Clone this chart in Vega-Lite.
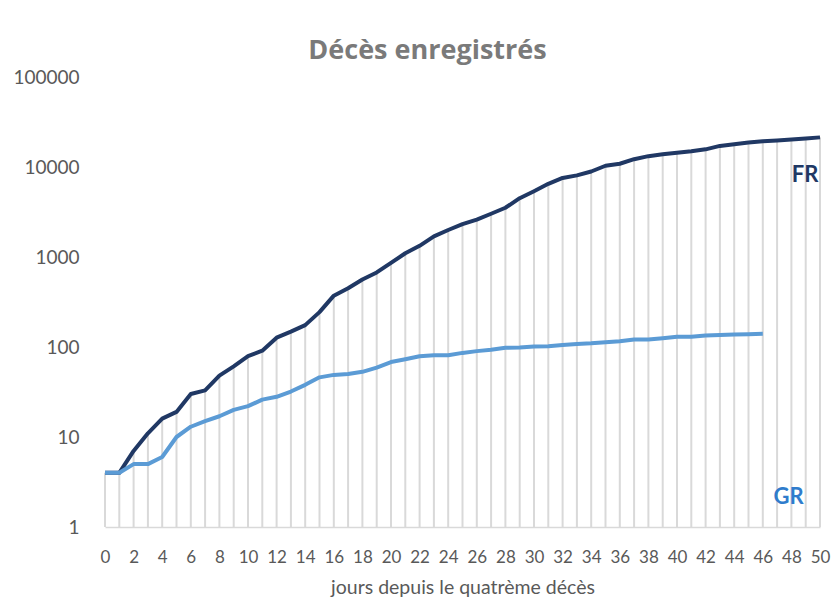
{
  "$schema": "https://vega.github.io/schema/vega-lite/v6.json",
  "width": 715,
  "height": 450,
  "autosize": {"type": "none"},
  "padding": {"left": 105, "top": 77, "right": 16, "bottom": 71},
  "background": "white",
  "config": {"view": {"stroke": null}, "font": "Lato"},
  "title": {
    "text": "Décès enregistrés",
    "fontSize": 27,
    "fontWeight": "bold",
    "color": "#7a7a7a",
    "anchor": "middle",
    "baseline": "alphabetic",
    "dx": -35,
    "dy": 24,
    "offset": 6,
    "font": "Open Sans"
  },
  "datasets": {
    "deaths": [
      {"day": 0, "country": "FR", "deaths": 4}, {"day": 1, "country": "FR", "deaths": 4},
      {"day": 2, "country": "FR", "deaths": 7}, {"day": 3, "country": "FR", "deaths": 11},
      {"day": 4, "country": "FR", "deaths": 16}, {"day": 5, "country": "FR", "deaths": 19},
      {"day": 6, "country": "FR", "deaths": 30}, {"day": 7, "country": "FR", "deaths": 33},
      {"day": 8, "country": "FR", "deaths": 48}, {"day": 9, "country": "FR", "deaths": 61},
      {"day": 10, "country": "FR", "deaths": 79}, {"day": 11, "country": "FR", "deaths": 91},
      {"day": 12, "country": "FR", "deaths": 127}, {"day": 13, "country": "FR", "deaths": 148},
      {"day": 14, "country": "FR", "deaths": 175}, {"day": 15, "country": "FR", "deaths": 244},
      {"day": 16, "country": "FR", "deaths": 372}, {"day": 17, "country": "FR", "deaths": 450},
      {"day": 18, "country": "FR", "deaths": 562}, {"day": 19, "country": "FR", "deaths": 674},
      {"day": 20, "country": "FR", "deaths": 860}, {"day": 21, "country": "FR", "deaths": 1100},
      {"day": 22, "country": "FR", "deaths": 1331}, {"day": 23, "country": "FR", "deaths": 1696},
      {"day": 24, "country": "FR", "deaths": 1995}, {"day": 25, "country": "FR", "deaths": 2314},
      {"day": 26, "country": "FR", "deaths": 2606}, {"day": 27, "country": "FR", "deaths": 3024},
      {"day": 28, "country": "FR", "deaths": 3523}, {"day": 29, "country": "FR", "deaths": 4503},
      {"day": 30, "country": "FR", "deaths": 5387}, {"day": 31, "country": "FR", "deaths": 6507},
      {"day": 32, "country": "FR", "deaths": 7560}, {"day": 33, "country": "FR", "deaths": 8078},
      {"day": 34, "country": "FR", "deaths": 8911}, {"day": 35, "country": "FR", "deaths": 10328},
      {"day": 36, "country": "FR", "deaths": 10869}, {"day": 37, "country": "FR", "deaths": 12210},
      {"day": 38, "country": "FR", "deaths": 13197}, {"day": 39, "country": "FR", "deaths": 13832},
      {"day": 40, "country": "FR", "deaths": 14393}, {"day": 41, "country": "FR", "deaths": 14967},
      {"day": 42, "country": "FR", "deaths": 15712}, {"day": 43, "country": "FR", "deaths": 17148},
      {"day": 44, "country": "FR", "deaths": 17901}, {"day": 45, "country": "FR", "deaths": 18681},
      {"day": 46, "country": "FR", "deaths": 19323}, {"day": 47, "country": "FR", "deaths": 19718},
      {"day": 48, "country": "FR", "deaths": 20240}, {"day": 49, "country": "FR", "deaths": 20765},
      {"day": 50, "country": "FR", "deaths": 21340},
      {"day": 0, "country": "GR", "deaths": 4}, {"day": 1, "country": "GR", "deaths": 4},
      {"day": 2, "country": "GR", "deaths": 5}, {"day": 3, "country": "GR", "deaths": 5},
      {"day": 4, "country": "GR", "deaths": 6}, {"day": 5, "country": "GR", "deaths": 10},
      {"day": 6, "country": "GR", "deaths": 13}, {"day": 7, "country": "GR", "deaths": 15},
      {"day": 8, "country": "GR", "deaths": 17}, {"day": 9, "country": "GR", "deaths": 20},
      {"day": 10, "country": "GR", "deaths": 22}, {"day": 11, "country": "GR", "deaths": 26},
      {"day": 12, "country": "GR", "deaths": 28}, {"day": 13, "country": "GR", "deaths": 32},
      {"day": 14, "country": "GR", "deaths": 38}, {"day": 15, "country": "GR", "deaths": 46},
      {"day": 16, "country": "GR", "deaths": 49}, {"day": 17, "country": "GR", "deaths": 50},
      {"day": 18, "country": "GR", "deaths": 53}, {"day": 19, "country": "GR", "deaths": 59},
      {"day": 20, "country": "GR", "deaths": 68}, {"day": 21, "country": "GR", "deaths": 73},
      {"day": 22, "country": "GR", "deaths": 79}, {"day": 23, "country": "GR", "deaths": 81},
      {"day": 24, "country": "GR", "deaths": 81}, {"day": 25, "country": "GR", "deaths": 86},
      {"day": 26, "country": "GR", "deaths": 90}, {"day": 27, "country": "GR", "deaths": 93},
      {"day": 28, "country": "GR", "deaths": 98}, {"day": 29, "country": "GR", "deaths": 99},
      {"day": 30, "country": "GR", "deaths": 101}, {"day": 31, "country": "GR", "deaths": 102},
      {"day": 32, "country": "GR", "deaths": 105}, {"day": 33, "country": "GR", "deaths": 108},
      {"day": 34, "country": "GR", "deaths": 110}, {"day": 35, "country": "GR", "deaths": 113},
      {"day": 36, "country": "GR", "deaths": 116}, {"day": 37, "country": "GR", "deaths": 121},
      {"day": 38, "country": "GR", "deaths": 121}, {"day": 39, "country": "GR", "deaths": 125},
      {"day": 40, "country": "GR", "deaths": 130}, {"day": 41, "country": "GR", "deaths": 130},
      {"day": 42, "country": "GR", "deaths": 134}, {"day": 43, "country": "GR", "deaths": 136},
      {"day": 44, "country": "GR", "deaths": 138}, {"day": 45, "country": "GR", "deaths": 139},
      {"day": 46, "country": "GR", "deaths": 140}
    ],
    "labels": [
      {"country": "FR", "day": 48.95, "deaths": 8150},
      {"country": "GR", "day": 47.8, "deaths": 2.17}
    ]
  },
  "encoding": {
    "x": {
      "field": "day",
      "type": "quantitative",
      "scale": {"domain": [0, 50], "nice": false, "zero": false},
      "axis": {
        "values": [0, 2, 4, 6, 8, 10, 12, 14, 16, 18, 20, 22, 24, 26, 28, 30, 32, 34, 36, 38, 40, 42, 44, 46, 48, 50],
        "grid": false,
        "ticks": false,
        "domainColor": "#d9d9d9",
        "domainWidth": 1.5,
        "labelFontSize": 17,
        "labelColor": "#595959",
        "labelPadding": 22,
        "labelFlush": false,
        "labelOverlap": false,
        "labelBound": false,
        "labelFont": "Lato",
        "title": "jours depuis le quatrème décès",
        "titleFontSize": 19.5,
        "titleFontWeight": "normal",
        "titleColor": "#595959",
        "titleFont": "Lato",
        "titlePadding": 13
      }
    },
    "y": {
      "field": "deaths",
      "type": "quantitative",
      "scale": {"type": "log", "domain": [1, 100000], "nice": false},
      "axis": {
        "values": [1, 10, 100, 1000, 10000, 100000],
        "format": "d",
        "grid": false,
        "ticks": false,
        "domain": false,
        "labelFontSize": 19,
        "labelColor": "#595959",
        "labelPadding": 26,
        "labelFlush": false,
        "labelOverlap": false,
        "labelFont": "Lato",
        "title": null
      }
    }
  },
  "layer": [
    {
      "data": {"name": "deaths"},
      "transform": [{"filter": "datum.country == 'FR'"}],
      "mark": {"type": "rule", "color": "#d9d9d9", "strokeWidth": 2},
      "encoding": {"y2": {"datum": 1}}
    },
    {
      "data": {"name": "deaths"},
      "mark": {"type": "line", "strokeWidth": 4, "strokeJoin": "round"},
      "encoding": {
        "color": {
          "field": "country",
          "type": "nominal",
          "scale": {"domain": ["FR", "GR"], "range": ["#203864", "#5b9bd5"]},
          "legend": null
        }
      }
    },
    {
      "data": {"name": "labels"},
      "mark": {"type": "text", "fontSize": 22, "fontWeight": "bold", "font": "Lato", "align": "center", "baseline": "middle"},
      "encoding": {
        "text": {"field": "country"},
        "fill": {
          "field": "country",
          "type": "nominal",
          "scale": {"domain": ["FR", "GR"], "range": ["#203864", "#2f7ccc"]},
          "legend": null
        }
      }
    }
  ]
}
